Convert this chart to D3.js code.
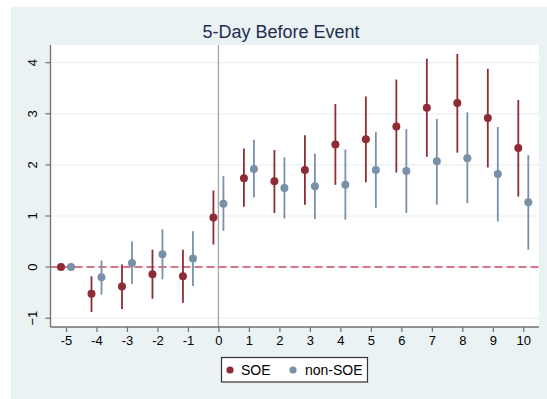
<!DOCTYPE html>
<html>
<head>
<meta charset="utf-8">
<script src="https://cdn.jsdelivr.net/npm/d3@7"></script>
<style>
  html, body { margin: 0; padding: 0; background: #ffffff; }
  svg { display: block; font-family: "Liberation Sans", Arial, sans-serif; }
</style>
</head>
<body>
<svg id="chart" width="547" height="399"></svg>
<script>
// Event-time coefficients with 95% confidence intervals
const days = [-5, -4, -3, -2, -1, 0, 1, 2, 3, 4, 5, 6, 7, 8, 9, 10];

const soeEst = [0, -0.52, -0.38, -0.14, -0.18, 0.97, 1.74, 1.68, 1.90, 2.40, 2.50, 2.75, 3.12, 3.21, 2.92, 2.33];
const soeLo  = [0, -0.88, -0.82, -0.62, -0.70, 0.44, 1.18, 1.06, 1.22, 1.61, 1.66, 1.85, 2.16, 2.24, 1.95, 1.38];
const soeHi  = [0, -0.18,  0.05,  0.34,  0.34, 1.50, 2.32, 2.29, 2.58, 3.19, 3.34, 3.67, 4.08, 4.17, 3.88, 3.27];

const nonEst = [0, -0.20, 0.08, 0.25, 0.17, 1.24, 1.92, 1.55, 1.58, 1.61, 1.90, 1.88, 2.07, 2.13, 1.82, 1.27];
const nonLo  = [0, -0.54, -0.33, -0.24, -0.37, 0.71, 1.36, 0.95, 0.94, 0.93, 1.16, 1.06, 1.22, 1.25, 0.89, 0.34];
const nonHi  = [0,  0.13,  0.50,  0.74,  0.70, 1.78, 2.49, 2.15, 2.22, 2.30, 2.64, 2.70, 2.90, 3.03, 2.74, 2.19];

const yTicks = [-1, 0, 1, 2, 3, 4];
const seriesNames = ["SOE", "non-SOE"];
const seriesColors = ["#8e2b35", "#7990a9"];

const svg = d3.select("#chart");

// graph region background
svg.append("rect")
  .attr("x", 11).attr("y", 7).attr("width", 536).attr("height", 392)
  .attr("fill", "#eaf2f3");

const plot = { left: 50.5, right: 539, top: 45, bottom: 327 };

svg.append("rect")
  .attr("x", plot.left).attr("y", plot.top)
  .attr("width", plot.right - plot.left).attr("height", plot.bottom - plot.top)
  .attr("fill", "#ffffff");

const x = d3.scaleLinear().domain([-5, 10]).range([66, 523.3]);
const y = d3.scaleLinear().domain([-1, 4]).range([318.2, 62.7]);

// horizontal grid
svg.append("g").selectAll("line").data(yTicks).join("line")
  .attr("x1", plot.left).attr("x2", plot.right)
  .attr("y1", d => y(d)).attr("y2", d => y(d))
  .attr("stroke", "#eaf2f3").attr("stroke-width", 1.2);

// event-day marker
svg.append("line")
  .attr("x1", x(0)).attr("x2", x(0))
  .attr("y1", plot.top).attr("y2", plot.bottom)
  .attr("stroke", "#a6a6a6").attr("stroke-width", 1.3);

// zero reference
svg.append("line")
  .attr("x1", plot.left).attr("x2", plot.right)
  .attr("y1", y(0)).attr("y2", y(0))
  .attr("stroke", "#d24a63").attr("stroke-width", 1.5)
  .attr("stroke-dasharray", "8,4");

// axes
const yAxis = svg.append("g")
  .attr("transform", `translate(${plot.left},0)`)
  .call(d3.axisLeft(y).tickValues(yTicks).tickSize(5).tickPadding(8).tickFormat(d3.format("d")));
yAxis.select(".domain").attr("d", `M0,${plot.top}V${plot.bottom}`).attr("stroke", "#707070").attr("stroke-width", 1.3);
yAxis.selectAll(".tick line").attr("stroke", "#707070").attr("stroke-width", 1.2);
yAxis.selectAll(".tick text")
  .attr("font-size", 13).attr("fill", "#000")
  .attr("transform", "rotate(-90)")
  .attr("x", 0).attr("y", -14).attr("dy", 0)
  .attr("text-anchor", "middle")
  .each(function(d) { d3.select(this).attr("x", -y(d)).attr("dy", "0"); });
yAxis.selectAll(".tick").attr("transform", "translate(0,0)");
yAxis.selectAll(".tick line").attr("y1", d => y(d)).attr("y2", d => y(d)).attr("x2", -5);

const xAxis = svg.append("g")
  .attr("transform", `translate(0,${plot.bottom})`)
  .call(d3.axisBottom(x).tickValues(days).tickSize(5).tickPadding(4).tickFormat(d3.format("d")));
xAxis.select(".domain").attr("d", `M${plot.left},0H${plot.right}`).attr("stroke", "#707070").attr("stroke-width", 1.3);
xAxis.selectAll(".tick line").attr("stroke", "#707070").attr("stroke-width", 1.2);
xAxis.selectAll(".tick text").attr("font-size", 13).attr("fill", "#000")
  .text(d => d < 0 ? "-" + Math.abs(d) : d);

// series
const series = [
  { est: soeEst, lo: soeLo, hi: soeHi, off: -5, color: seriesColors[0] },
  { est: nonEst, lo: nonLo, hi: nonHi, off: 5, color: seriesColors[1] }
];

series.forEach(s => {
  const g = svg.append("g");
  g.selectAll("line").data(days).join("line")
    .attr("x1", (d, i) => x(d) + s.off).attr("x2", (d, i) => x(d) + s.off)
    .attr("y1", (d, i) => y(s.lo[i])).attr("y2", (d, i) => y(s.hi[i]))
    .attr("stroke", s.color).attr("stroke-width", 1.8);
  g.selectAll("circle").data(days).join("circle")
    .attr("cx", (d, i) => x(d) + s.off)
    .attr("cy", (d, i) => y(s.est[i]))
    .attr("r", 4)
    .attr("fill", s.color);
});

// title
svg.append("text")
  .attr("x", 281).attr("y", 38)
  .attr("text-anchor", "middle")
  .attr("font-size", 18)
  .attr("fill", "#1e2d52")
  .text("5-Day Before Event");

// legend
const leg = svg.append("g");
leg.append("rect")
  .attr("x", 221.5).attr("y", 357.5).attr("width", 146).attr("height", 24.5)
  .attr("fill", "#ffffff").attr("stroke", "#333").attr("stroke-width", 1.2);
const legItems = [
  { cx: 230, tx: 241 },
  { cx: 293, tx: 305 }
];
legItems.forEach((it, i) => {
  leg.append("circle").attr("cx", it.cx).attr("cy", 370).attr("r", 3.6).attr("fill", seriesColors[i]);
  leg.append("text").attr("x", it.tx).attr("y", 375)
    .attr("font-size", 14).attr("fill", "#000").text(seriesNames[i]);
});
</script>
</body>
</html>
